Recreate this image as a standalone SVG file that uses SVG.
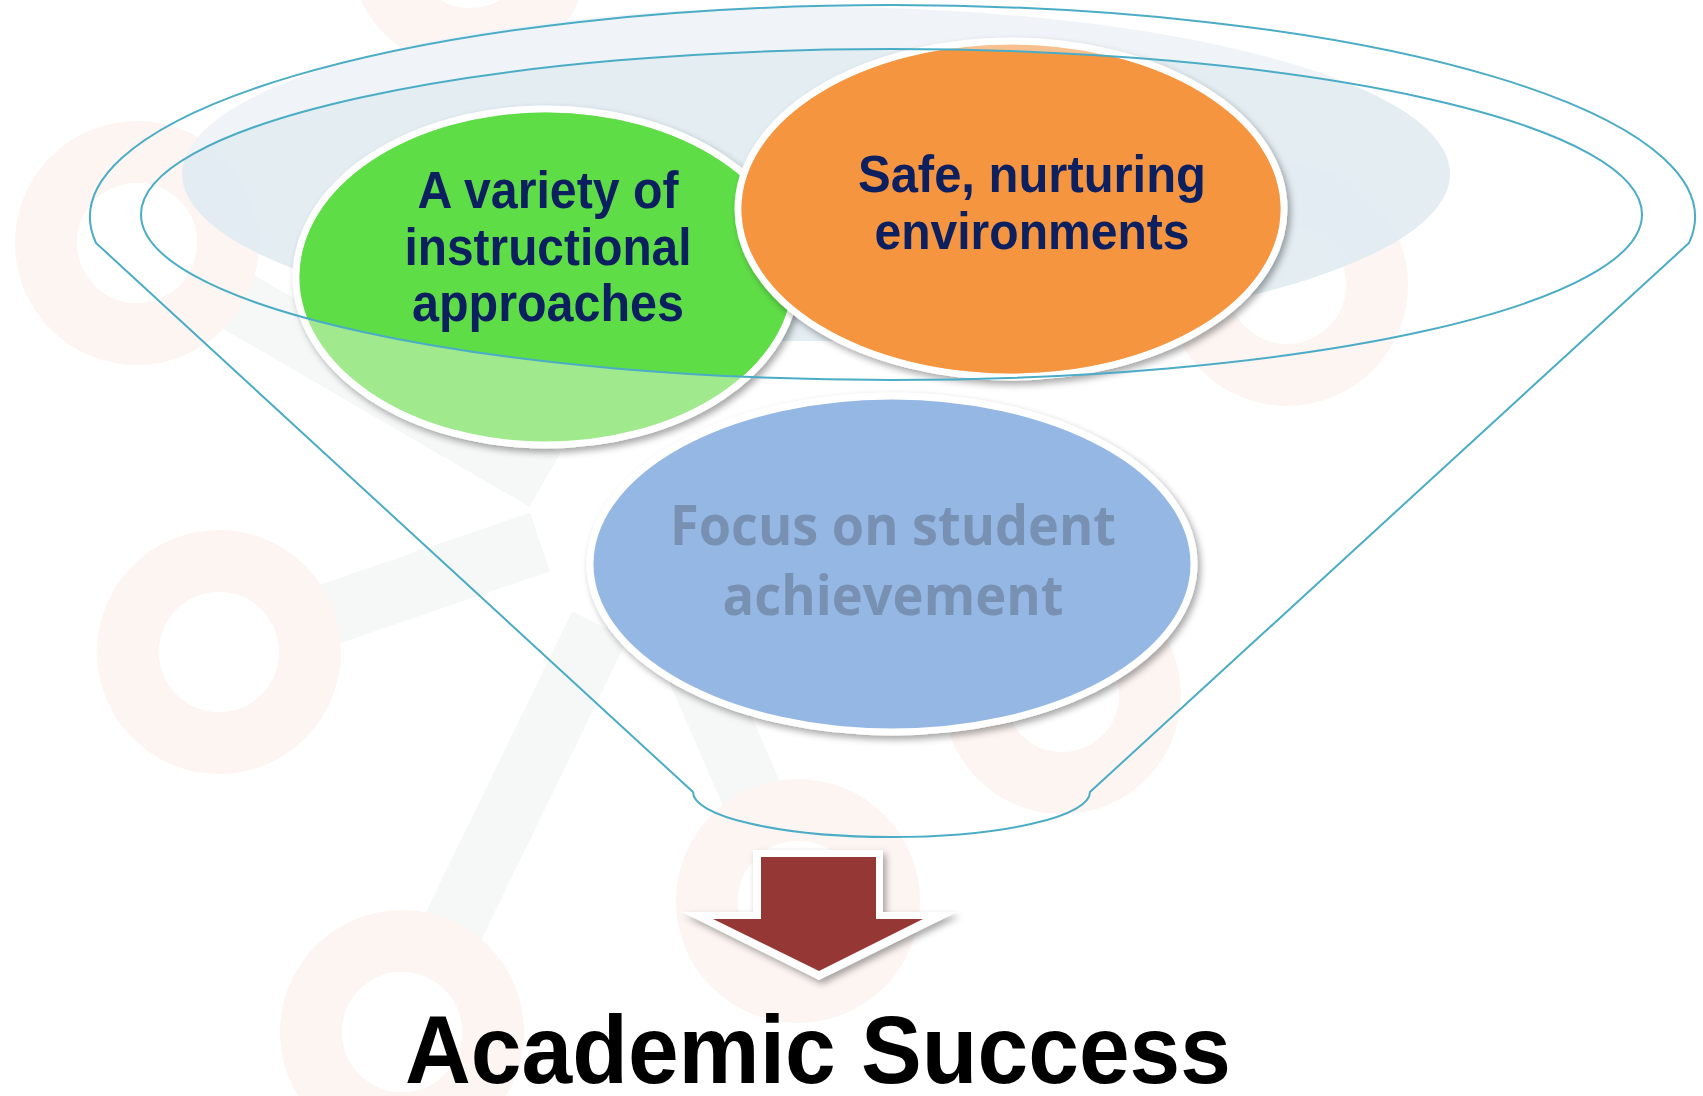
<svg xmlns="http://www.w3.org/2000/svg" width="1703" height="1096" viewBox="0 0 1703 1096">
<style>
.ring{fill:none;stroke:#fdf5f2;stroke-width:62}
.hole{fill:#fff}
.bar{stroke:#f6f8f8;stroke-width:62;fill:none}
.fl{fill:none;stroke:#4bacc6;stroke-width:2}
.tn{font-family:"Liberation Sans Narrow","Liberation Sans",Arial,sans-serif;font-weight:bold;fill:#0c1f5f;text-anchor:middle}
.tb{font-family:"Open Sans","Liberation Sans",sans-serif;font-weight:bold;fill:#7891b2;text-anchor:middle}
.tk{font-family:"Liberation Sans Narrow","Liberation Sans",Arial,sans-serif;font-weight:bold;fill:#000;text-anchor:middle}
.edge{stroke:#fff;stroke-width:7}
</style>
<defs>
<filter id="sh" x="-10%" y="-10%" width="120%" height="125%">
<feDropShadow dx="3" dy="4" stdDeviation="3.5" flood-color="#000" flood-opacity="0.35"/>
</filter>
<clipPath id="inner"><ellipse cx="891.5" cy="214.5" rx="750.5" ry="165.5"/></clipPath>
</defs>
<rect width="1703" height="1096" fill="#fff"/>
<g id="background">
<line class="bar" x1="219" y1="652" x2="540" y2="542"/>
<line class="bar" x1="402" y1="1032" x2="600" y2="625"/>
<line class="bar" x1="798" y1="901" x2="650" y2="560"/>
<line class="bar" x1="137" y1="243" x2="545" y2="480"/>
<circle class="ring" cx="137" cy="243" r="91"/>
<circle class="ring" cx="219" cy="652" r="91"/>
<circle class="ring" cx="402" cy="1032" r="91"/>
<circle class="ring" cx="470" cy="-50" r="89"/>
<circle class="ring" cx="1287" cy="285" r="90"/>
<circle class="ring" cx="1062" cy="695" r="88"/>
<circle class="ring" cx="798" cy="901" r="91"/>
<circle class="hole" cx="137" cy="243" r="60"/>
<circle class="hole" cx="219" cy="652" r="60"/>
<circle class="hole" cx="402" cy="1032" r="60"/>
<circle class="hole" cx="798" cy="901" r="60"/>
</g>
<g id="funnel-fill">
<ellipse cx="816" cy="174" rx="634" ry="167" fill="#eef3f7" opacity="0.9"/>
<ellipse cx="816" cy="174" rx="634" ry="167" fill="#e2ebf1" opacity="0.92" clip-path="url(#inner)"/>
</g>
<g id="node-green">
<ellipse cx="546" cy="277" rx="250" ry="168" fill="#a0ea8d" class="edge" filter="url(#sh)"/>
<ellipse cx="546" cy="277" rx="246.5" ry="164.5" fill="#5fdd47" clip-path="url(#inner)"/>
</g>
<g id="node-orange">
<ellipse cx="1011" cy="209" rx="273" ry="168" fill="#f8c08f" class="edge" filter="url(#sh)"/>
<ellipse cx="1011" cy="209" rx="269.5" ry="164.5" fill="#f6953f" clip-path="url(#inner)"/>
</g>
<g id="node-blue">
<ellipse cx="892" cy="564" rx="302" ry="168" fill="#95b7e3" class="edge" filter="url(#sh)"/>
</g>
<g id="funnel">
<ellipse class="fl" cx="891.5" cy="214.5" rx="750.5" ry="165.5"/>
<path class="fl" d="M96 243 A802.5 212 0 1 1 1689 243 L1090 792 A198.5 45 0 0 1 693 792 Z"/>
</g>
<g id="labels">
<text class="tn" font-size="51" x="548" y="208" textLength="261" lengthAdjust="spacingAndGlyphs">A variety of</text>
<text class="tn" font-size="51" x="548" y="265" textLength="287" lengthAdjust="spacingAndGlyphs">instructional</text>
<text class="tn" font-size="51" x="548" y="321" textLength="272" lengthAdjust="spacingAndGlyphs">approaches</text>
<text class="tn" font-size="52" x="1032" y="192" textLength="348" lengthAdjust="spacingAndGlyphs">Safe, nurturing</text>
<text class="tn" font-size="52" x="1032" y="249" textLength="315" lengthAdjust="spacingAndGlyphs">environments</text>
<text class="tb" font-size="55" x="893" y="545" textLength="446" lengthAdjust="spacingAndGlyphs">Focus on student</text>
<text class="tb" font-size="55" x="893" y="615" textLength="341" lengthAdjust="spacingAndGlyphs">achievement</text>
</g>
<g id="connectors">
<polygon points="753,850 883,850 883,912 957,912 819,980 682,912 753,912" fill="#fff" filter="url(#sh)"/>
<polygon points="761,857 876,857 876,919 923,919 819,971 713,919 761,919" fill="#953735"/>
</g>
<g id="result">
<text class="tk" font-size="97" x="818" y="1083" textLength="826" lengthAdjust="spacingAndGlyphs">Academic Success</text>
</g>
</svg>
